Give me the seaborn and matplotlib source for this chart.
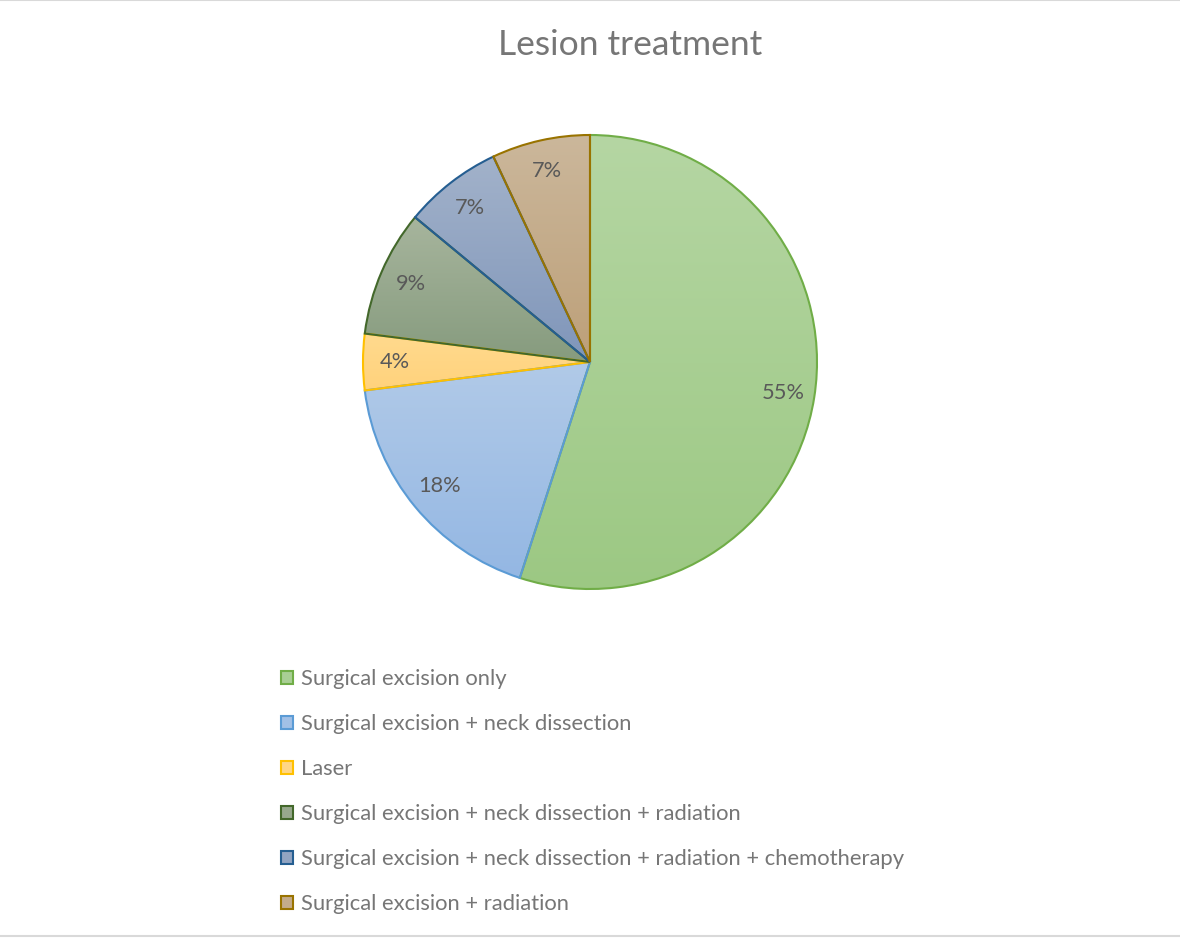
import numpy as np
import matplotlib
matplotlib.use("Agg")
import matplotlib.pyplot as plt
from matplotlib.colors import LinearSegmentedColormap
from matplotlib.lines import Line2D
from matplotlib.patches import Rectangle
import seaborn as sns

# Treatment categories and their share (%)
categories = [
    "Surgical excision only",
    "Surgical excision + neck dissection",
    "Laser",
    "Surgical excision + neck dissection + radiation",
    "Surgical excision + neck dissection + radiation + chemotherapy",
    "Surgical excision + radiation",
]
shares = [55, 18, 4, 9, 7, 7]

# Gradient fill (top, bottom) and outline colours per slice
fill_top = ["#B5D6A3", "#B1CAE8", "#FFDA8E", "#A7B59D", "#A2B2CA", "#CBB79B"]
fill_bottom = ["#9CC883", "#94B7E3", "#FFD27C", "#869B7E", "#8096BA", "#BDA079"]
edge_colors = ["#70AD47", "#5B9BD5", "#FFC000", "#43682B", "#255E91", "#997300"]
legend_fill = ["#A9CF95", "#A2C0E6", "#FFD685", "#97A88D", "#91A4C2", "#C4AB8A"]

sns.set_theme(style="white")
plt.rcParams["font.family"] = ["Lato", "DejaVu Sans"]

W, H = 1180, 938
fig = plt.figure(figsize=(W / 100, H / 100), dpi=100)
fig.patch.set_facecolor("white")

# pie axes: centre (590, 362) px, radius 227 px
cx, cy, r = 590, 362, 227
ax = fig.add_axes([(cx - r) / W, (H - cy - r) / H, 2 * r / W, 2 * r / H])

wedges, texts, autotexts = ax.pie(
    shares,
    startangle=90,
    counterclock=False,
    colors=fill_bottom,
    autopct=lambda p: f"{p:.0f}%",
    pctdistance=0.86,
    wedgeprops=dict(linewidth=1.5),
    textprops=dict(color="#595959", fontsize=15.7),
)

grad = np.linspace(0, 1, 256).reshape(-1, 1)
for w, top, bot, ec in zip(wedges, fill_top, fill_bottom, edge_colors):
    w.set_edgecolor(ec)
    w.set_facecolor("none")
    w.set_zorder(3)
    verts = w.get_path().vertices
    x0, x1 = verts[:, 0].min(), verts[:, 0].max()
    y0, y1 = verts[:, 1].min(), verts[:, 1].max()
    cmap = LinearSegmentedColormap.from_list("g", [top, bot])
    im = ax.imshow(grad, cmap=cmap, extent=[x0, x1, y0, y1], origin="upper",
                   aspect="auto", zorder=2, interpolation="bilinear")
    im.set_clip_path(w)

for t in autotexts:
    t.set_zorder(5)

ax.set_xlim(-1, 1)
ax.set_ylim(-1, 1)
ax.set_aspect("equal")
ax.axis("off")

# title
fig.text(630 / W, 1 - 55 / H, "Lesion treatment", ha="center", va="baseline",
         fontsize=25.5, color="#767676")

# legend
handles = [Rectangle((0, 0), 1, 1, facecolor=c, edgecolor=e, linewidth=1.5)
           for c, e in zip(legend_fill, edge_colors)]
leg = fig.legend(
    handles, categories,
    loc="upper left",
    bbox_to_anchor=(281 / W, 1 - 669 / H),
    frameon=False,
    fontsize=15.85,
    labelcolor="#767676",
    handlelength=0.55,
    handleheight=0.55,
    handletextpad=0.36,
    labelspacing=1.14,
    borderaxespad=0,
    borderpad=0,
)

# thin chart border lines at top and bottom
fig.add_artist(Line2D([0, 1], [1 - 0.5 / H, 1 - 0.5 / H], color="#D9D9D9", lw=1.5))
fig.add_artist(Line2D([0, 1], [1 - 936 / H, 1 - 936 / H], color="#D9D9D9", lw=1.5))

fig.savefig("out.png", dpi=100, facecolor="white")
